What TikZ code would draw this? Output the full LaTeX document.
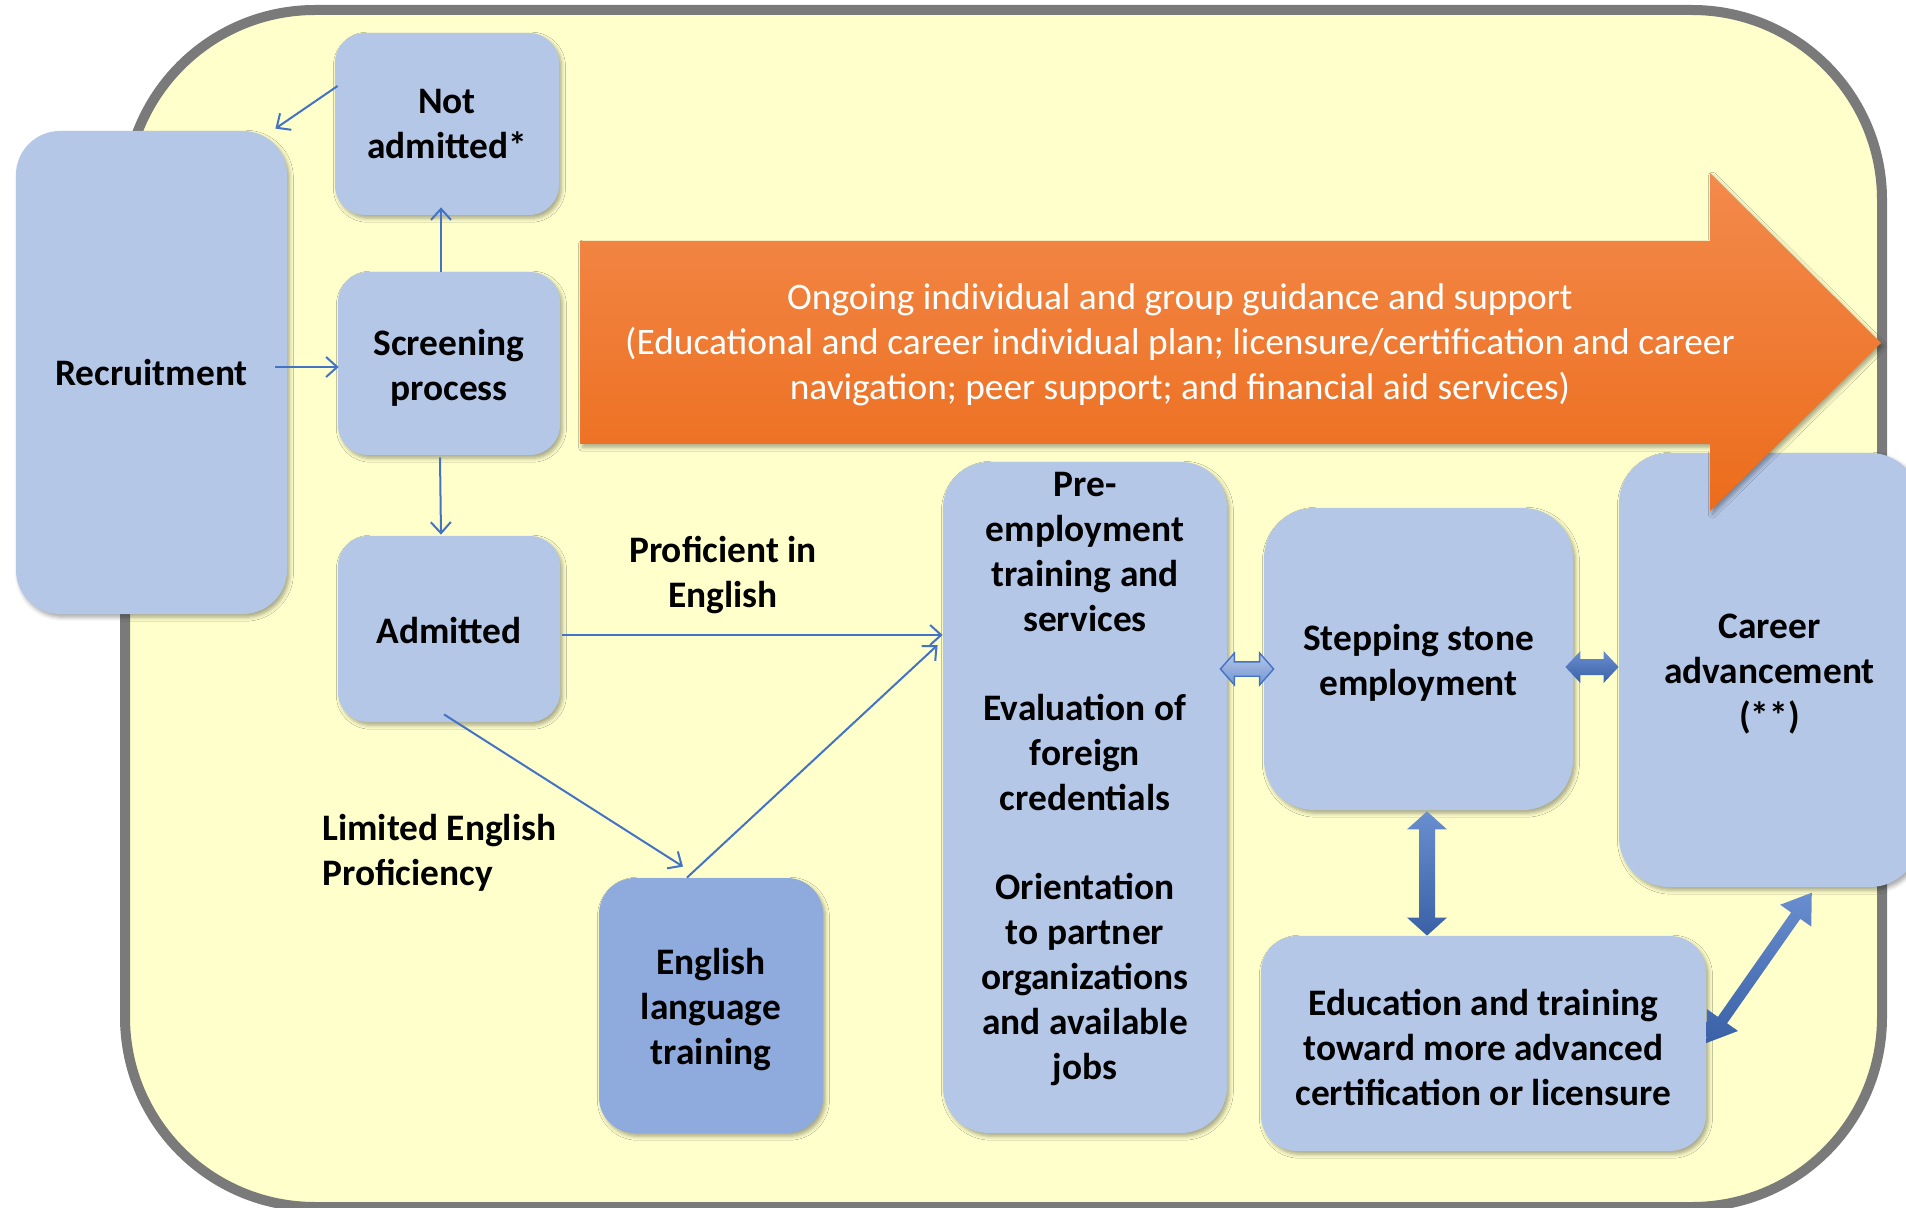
\documentclass[tikz,border=0pt]{standalone}
\usepackage{fontspec}
\setmainfont{Carlito}
\usetikzlibrary{calc,fit,arrows.meta,shadows.blur}

\definecolor{paleyellow}{HTML}{FFFFCC}
\definecolor{framegray}{HTML}{7A7A7A}
\definecolor{boxblue}{HTML}{B4C7E7}
\definecolor{deepbox}{HTML}{8FAADC}
\definecolor{linkblue}{HTML}{4472C4}
\definecolor{orangetop}{HTML}{F38A4C}
\definecolor{orangebot}{HTML}{EC6C1B}

\newcommand\boxfont{\bfseries\fontsize{18.7}{22.4}\selectfont}
\newcommand\bandfont{\fontsize{18.7}{22.6}\selectfont}

% filled double-headed block arrow between two points
% #1 style, #2 from, #3 to, #4 head length, #5 head half-width, #6 shaft half-width
\newcommand\blockarrow[6]{%
  \path[#1] let \p1=(#2), \p2=(#3),
    \n1={atan2(\y2-\y1,\x2-\x1)}, \n2={veclen(\x2-\x1,\y2-\y1)} in
    [shift={(\p1)}, rotate=\n1]
    (0pt,0pt) -- (#4,#5) -- (#4,#6) -- ({\n2*1pt-#4},#6) -- ({\n2*1pt-#4},#5)
    -- ({\n2*1pt},0pt) -- ({\n2*1pt-#4},-#5) -- ({\n2*1pt-#4},-#6)
    -- (#4,-#6) -- (#4,-#5) -- cycle;}

\tikzset{
  softshadow/.style={blur shadow={shadow xshift=1.2pt, shadow yshift=-1.6pt,
      shadow opacity=35, shadow blur radius=2pt}},
  bluebox/.style={fill=boxblue, rounded corners=#1, inner sep=0pt, softshadow},
  bluebox/.default=15pt,
  caption/.style={font=\boxfont, inner sep=0pt, align=center},
  link/.style={draw=linkblue, line width=1pt,
      -{Straight Barb[length=5.5pt,width=10pt,line width=1pt]}},
  solidlink/.style={top color=linkblue!80!white, bottom color=linkblue!85!black},
  hollowlink/.style={draw=linkblue, line width=0.7pt,
      top color=linkblue!40!white, bottom color=linkblue!75!white},
}

\begin{document}
\begin{tikzpicture}[x=0.5pt, y=-0.5pt]
\useasboundingbox (0,0) rectangle (1906,1208);

% outer frame
\draw[line width=5pt, draw=framegray, fill=paleyellow, rounded corners=95pt]
  (125,10) rectangle (1882,1207);

% process boxes
\node[bluebox=22pt, fit={(16,131) (287,614)}] (rec) {};
\node[bluebox, fit={(335,33) (559,215)}] (notadm) {};
\node[bluebox, fit={(338,272) (560,455)}] (scr) {};
\node[bluebox, fit={(338,536) (560,722)}] (adm) {};
\node[bluebox=18pt, fit={(599,878) (823,1133)}, fill=deepbox] (eng) {};
\node[bluebox=23pt, fit={(943,462) (1227,1133)}] (pre) {};
\node[bluebox=25pt, fit={(1264,508) (1573,810)}] (step) {};
\node[bluebox=25pt, fit={(1619,453) (1920,887)}] (car) {};
\node[bluebox=18pt, fit={(1261,936) (1706,1151)}] (edu) {};

% box texts
\node[caption] (rec-t) at ($(rec.center)+(0,0)$) {Recruitment};
\node[caption] (notadm-t) at ($(notadm.center)+(0,0)$) {Not\\admitted*};
\node[caption] (scr-t) at ($(scr.center)+(0,4)$) {Screening\\process};
\node[caption] (adm-t) at ($(adm.center)+(0,2)$) {Admitted};
\node[caption] (eng-t) at ($(eng.center)+(0,4)$) {English\\language\\training};
\node[caption] (pre-t) at (1085,779)
  {Pre-\\employment\\training and\\services\\[22.4pt]Evaluation of\\foreign\\credentials\\[22.4pt]Orientation\\to partner\\organizations\\and available\\jobs};
\node[caption] (step-t) at ($(step.center)+(0,4)$) {Stepping stone\\employment};
\node[caption] (car-t) at ($(car.center)+(0,4)$) {Career\\advancement\\(**)};
\node[caption] (edu-t) at ($(edu.center)+(0,4)$)
  {Education and training\\toward more advanced\\certification or licensure};

% ongoing guidance band
\path[top color=orangetop, bottom color=orangebot, softshadow]
  (580,241) -- (1710,241) -- (1710,173) -- (1881,343) -- (1710,511)
  -- (1710,444) -- (580,444) -- cycle;
\node[font=\bandfont, text=white, align=center, inner sep=0pt] (guidance) at (1180,345)
  {Ongoing individual and group guidance and support\\
   (Educational and career individual plan; licensure/certification and career\\
   navigation; peer support; and financial aid services)};

% branch captions
\node[caption] (proficient) at (723,575) {Proficient in\\English};
\node[caption, align=left, anchor=west] (limited) at (322,853) {Limited English\\Proficiency};

% intake flow
\draw[link] ($(notadm.west)+(3,-38)$) -- ($(rec.north east)+(-12,-2)$);
\draw[link] ($(rec.east)+(-12,-5.5)$) -- ($(scr.west)+(1,3.5)$);
\draw[link] ($(scr.north)+(-8,0)$) -- ($(notadm.south)+(-6,-8)$);
\draw[link] ($(scr.south)+(-9,2)$) -- ($(adm.north)+(-8,-1)$);
\draw[link] ($(adm.east)+(2,6)$) -- ($(pre.west)+(0,-162.5)$);
\draw[link] ($(adm.south)+(-5,-8)$) -- ($(eng.north)+(-28,-11)$);
\draw[link] ($(eng.north)+(-24,0)$) -- ($(pre.west)+(-5,-152.5)$);

% two-way links between the later stages
\blockarrow{hollowlink}{$(pre.east)+(-7,-128.5)$}{$(step.west)+(10,10)$}{7pt}{8pt}{3.6pt}
\blockarrow{solidlink}{$(step.east)+(-8,8)$}{$(car.west)+(0,-3)$}{7.5pt}{8pt}{4pt}
\blockarrow{solidlink}{$(step.south)+(8.5,1)$}{$(edu.north)+(-56.5,0)$}{9pt}{10pt}{4pt}
\blockarrow{solidlink}{$(edu.east)+(0,-0.5)$}{$(car.south)+(42.5,5)$}{14pt}{9.5pt}{2.8pt}
\end{tikzpicture}
\end{document}
